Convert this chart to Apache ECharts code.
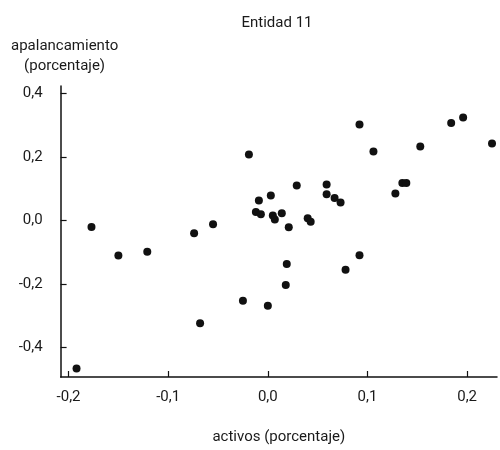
<!DOCTYPE html>
<html>
<head>
<meta charset="utf-8">
<title>Entidad 11</title>
<script src="https://cdn.jsdelivr.net/npm/echarts@6/dist/echarts.min.js"></script>
<style>
  html, body { margin: 0; padding: 0; background: #fff; }
  #main { width: 500px; height: 450px; }
</style>
</head>
<body>
<div id="main"></div>
<script>
// activos (porcentaje) vs apalancamiento (porcentaje)
var activos = [
  -0.019, 0.029, 0.003, -0.009, 0.059, 0.059, 0.067, 0.073,
  -0.012, -0.007, 0.005, 0.007, 0.014, 0.040, 0.043, 0.021,
  0.092, 0.106, 0.153, 0.184, 0.196, 0.225, 0.135, 0.139, 0.128, 0.092,
  -0.177, -0.150, -0.121, -0.074, -0.055, -0.068, -0.192,
  0.019, 0.018, -0.025, 0.000, 0.078
];
var apalancamiento = [
  0.208, 0.110, 0.079, 0.063, 0.113, 0.083, 0.071, 0.057,
  0.027, 0.020, 0.016, 0.003, 0.023, 0.007, -0.004, -0.021,
  0.302, 0.217, 0.233, 0.307, 0.324, 0.242, 0.118, 0.118, 0.085, -0.109,
  -0.020, -0.110, -0.098, -0.040, -0.012, -0.323, -0.465,
  -0.137, -0.203, -0.252, -0.268, -0.155
];
var xTicks = [-0.2, -0.1, 0, 0.1, 0.2];
var yTicks = [-0.4, -0.2, 0, 0.2, 0.4];

var puntos = activos.map(function (x, i) { return [x, apalancamiento[i]]; });
var fuente = '"Roboto", sans-serif';
var fmt = function (v) { return v.toFixed(1).replace('.', ','); };

var myChart = echarts.init(document.getElementById('main'));
var option = {
  animation: false,
  title: {
    text: 'Entidad 11',
    left: 272,
    top: 11,
    textAlign: 'center',
    textStyle: { fontFamily: fuente, fontSize: 15, fontWeight: 'normal', color: '#1a1a1a' }
  },
  grid: { left: 60, right: 3, top: 86, bottom: 71 },
  xAxis: {
    type: 'value',
    min: -0.208,
    max: 0.23,
    name: 'activos (porcentaje)',
    nameLocation: 'middle',
    nameGap: 53,
    nameTextStyle: { fontFamily: fuente, fontSize: 15, color: '#1a1a1a' },
    axisLine: { onZero: false, lineStyle: { color: '#111', width: 1.5 } },
    axisTick: { inside: true, length: 6, customValues: xTicks, lineStyle: { color: '#111', width: 1.2 } },
    axisLabel: { customValues: xTicks, formatter: fmt, margin: 13, fontFamily: fuente, fontSize: 15, color: '#1a1a1a' },
    splitLine: { show: false }
  },
  yAxis: {
    type: 'value',
    min: -0.492,
    max: 0.423,
    name: 'apalancamiento\n(porcentaje)',
    nameLocation: 'end',
    nameGap: 10,
    nameTextStyle: {
      fontFamily: fuente, fontSize: 15, color: '#1a1a1a',
      align: 'center', verticalAlign: 'bottom', lineHeight: 20, padding: [0, 0, 0, 8]
    },
    axisLine: { onZero: false, lineStyle: { color: '#111', width: 1.5 } },
    axisTick: { inside: true, length: 6, customValues: yTicks, lineStyle: { color: '#111', width: 1.2 } },
    axisLabel: { customValues: yTicks, formatter: fmt, margin: 18, fontFamily: fuente, fontSize: 15, color: '#1a1a1a' },
    splitLine: { show: false }
  },
  series: [{
    type: 'scatter',
    data: puntos,
    symbol: 'circle',
    symbolSize: 8,
    itemStyle: { color: '#111', opacity: 1 }
  }]
};
myChart.setOption(option);
</script>
</body>
</html>
